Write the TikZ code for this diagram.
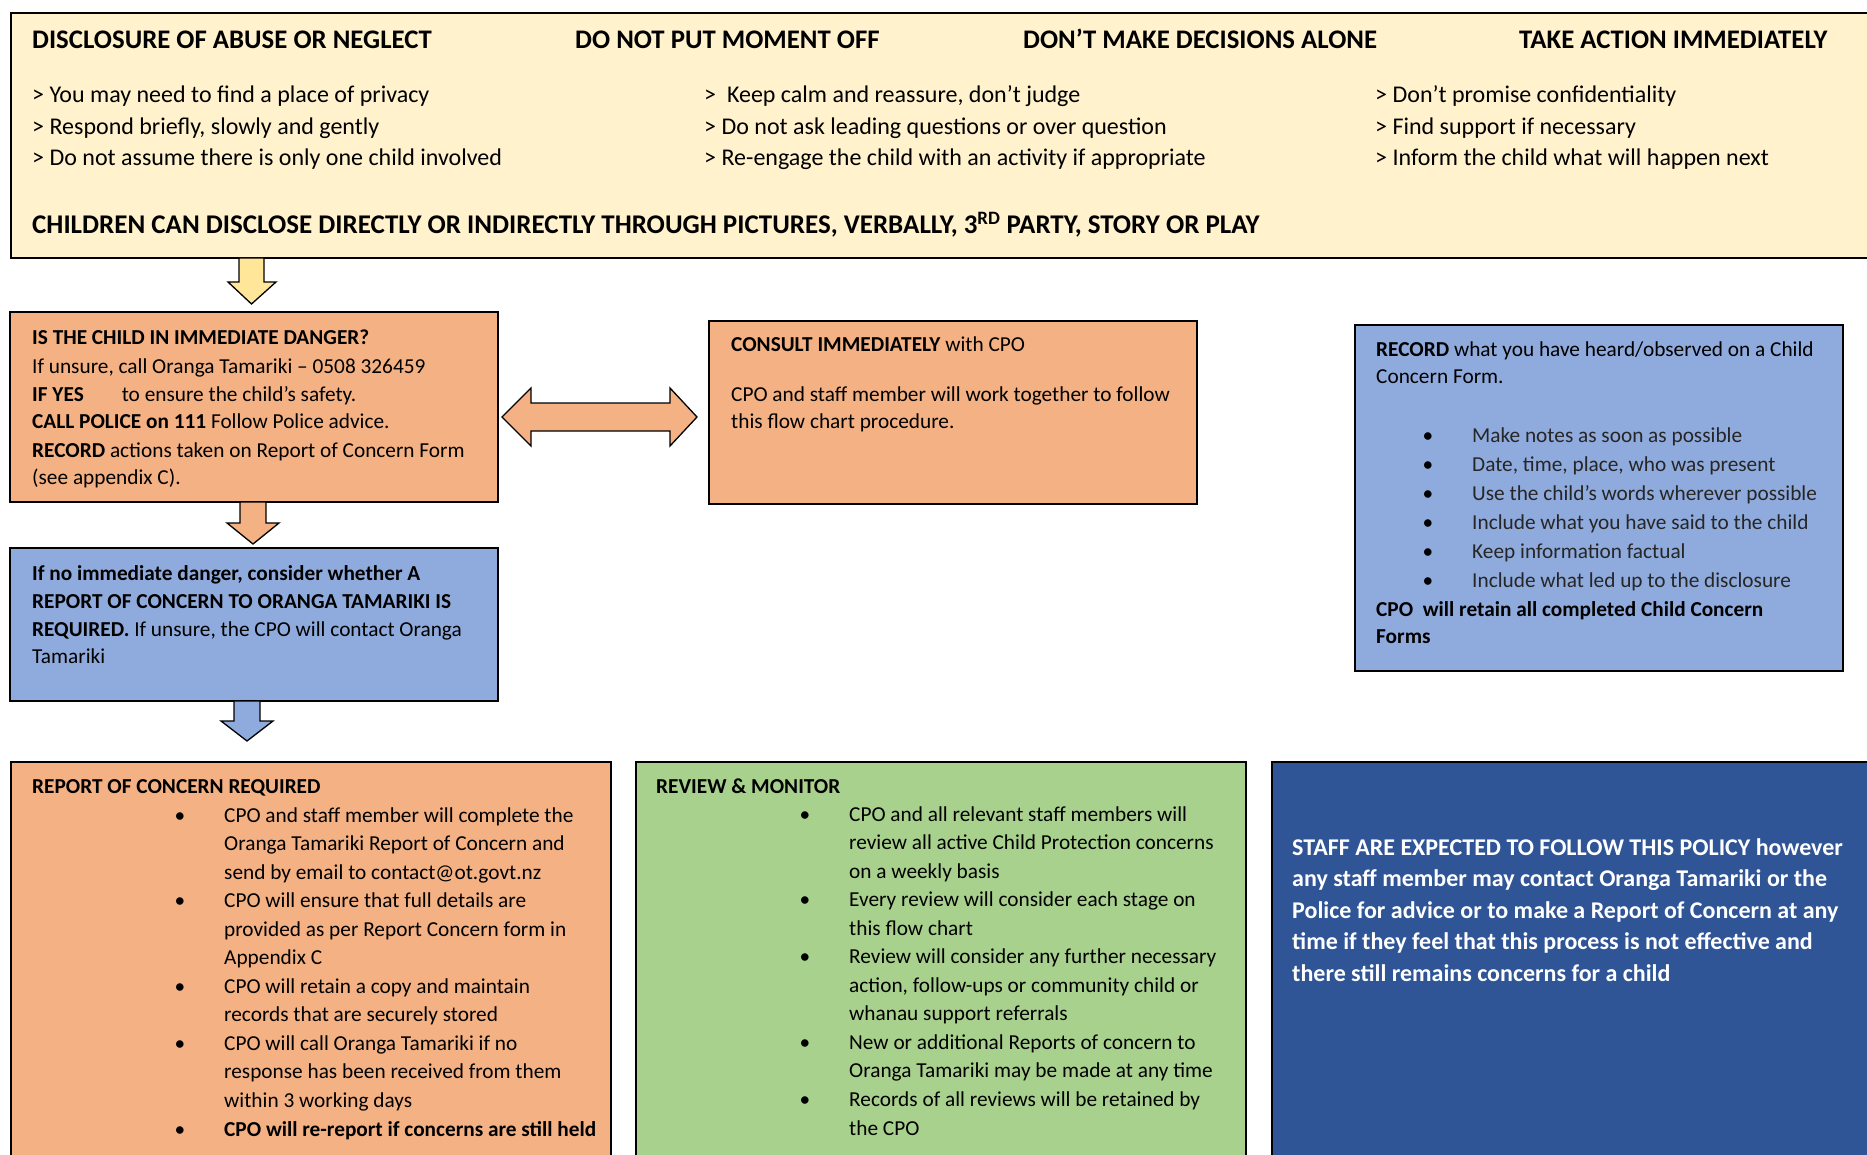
\documentclass[tikz,border=0pt]{standalone}
\usepackage{fontspec}
\setmainfont{Carlito}
\definecolor{topy}{HTML}{FFF2CC}
\definecolor{orng}{HTML}{F4B183}
\definecolor{lblue}{HTML}{8FAADC}
\definecolor{grn}{HTML}{A9D18E}
\definecolor{dblue}{HTML}{2F5597}
\definecolor{yarr}{HTML}{FFE699}
\begin{document}
\begin{tikzpicture}[x=1pt,y=-1pt,
  box/.style={draw=black,line width=1.6pt},
  arr/.style={draw=black,line width=1.3pt,line join=miter},
  tl/.style={anchor=base west,inner sep=0pt,font=\fontsize{21.3}{26}\selectfont},
  tb/.style={anchor=base west,inner sep=0pt,font=\fontsize{24}{29}\selectfont},
  th/.style={anchor=base west,inner sep=0pt,font=\bfseries\fontsize{26.8}{32}\selectfont},
  tw/.style={anchor=base west,inner sep=0pt,text=white,font=\bfseries\fontsize{24}{29}\selectfont},
  bul/.style={anchor=base,inner sep=0pt,font=\fontsize{21.3}{26}\selectfont},
  ]
\useasboundingbox (0,0) rectangle (1867,1155);
\clip (0,0) rectangle (1867,1155);
\fill[white] (0,0) rectangle (1867,1155);

% ---------- top box ----------
\draw[box,fill=topy] (11,13) rectangle (1885,258);
\node[th] (h1) at (32,49) {DISCLOSURE OF ABUSE OR NEGLECT};
\node[th] (h2) at (575,49) {DO NOT PUT MOMENT OFF};
\node[th] (h3) at (1023,49) {DON’T MAKE DECISIONS ALONE};
\node[th] (h4) at (1519,49) {TAKE ACTION IMMEDIATELY};
\foreach \t [count=\i from 0] in {{> You may need to find a place of privacy},{> Respond briefly, slowly and gently},{> Do not assume there is only one child involved}}
  \node[tb] (ca\i) at (32,103+31.5*\i) {\t};
\foreach \t [count=\i from 0] in {{>\ \ Keep calm and reassure, don’t judge},{> Do not ask leading questions or over question},{> Re-engage the child with an activity if appropriate}}
  \node[tb] (cb\i) at (704,103+31.5*\i) {\t};
\foreach \t [count=\i from 0] in {{> Don’t promise confidentiality},{> Find support if necessary},{> Inform the child what will happen next}}
  \node[tb] (cc\i) at (1375,103+31.5*\i) {\t};
\node[th,font=\bfseries\fontsize{27}{32}\selectfont] (disc) at (32,234) {CHILDREN CAN DISCLOSE DIRECTLY OR INDIRECTLY THROUGH PICTURES, VERBALLY, 3\textsuperscript{RD} PARTY, STORY OR PLAY};

% ---------- arrow top -> danger ----------
\draw[arr,fill=yarr] (239,258) -- (264,258) -- (264,282) -- (276,282) -- (251.5,304) -- (228,282) -- (239,282) -- cycle;

% ---------- danger box ----------
\draw[box,fill=orng] (10,312) rectangle (498,502);
\node[tl] (d0) at (32,344) {\textbf{IS THE CHILD IN IMMEDIATE DANGER?}};
\node[tl] (d1) at (32,373) {If unsure, call Oranga Tamariki – 0508 326459};
\node[tl] (d2) at (32,401) {\makebox[89.6pt][l]{\textbf{IF YES}}to ensure the child’s safety.};
\node[tl] (d3) at (32,428) {\textbf{CALL POLICE on 111} Follow Police advice.};
\node[tl] (d4) at (32,457) {\textbf{RECORD} actions taken on Report of Concern Form};
\node[tl] (d5) at (32,484) {(see appendix C).};

% ---------- arrow danger -> consider ----------
\draw[arr,fill=orng] (240,502) -- (266,502) -- (266,523) -- (279,523) -- (253,544) -- (227,523) -- (240,523) -- cycle;

% ---------- double arrow ----------
\draw[arr,fill=orng] (502,417) -- (531,388) -- (531,403) -- (670,403) -- (670,388) -- (697,417) -- (670,446) -- (670,431) -- (531,431) -- (531,446) -- cycle;

% ---------- consult box ----------
\draw[box,fill=orng] (709,321) rectangle (1197,504);
\node[tl] (k0) at (731,351) {\textbf{CONSULT IMMEDIATELY} with CPO};
\node[tl] (k1) at (731,401) {CPO and staff member will work together to follow};
\node[tl] (k2) at (731,428) {this flow chart procedure.};

% ---------- consider box ----------
\draw[box,fill=lblue] (10,548) rectangle (498,701);
\node[tl] (e0) at (32,580) {\textbf{If no immediate danger, consider whether A}};
\node[tl] (e1) at (32,608) {\textbf{REPORT OF CONCERN TO ORANGA TAMARIKI IS}};
\node[tl] (e2) at (32,636) {\textbf{REQUIRED.} If unsure, the CPO will contact Oranga};
\node[tl] (e3) at (32,663) {Tamariki};

% ---------- arrow consider -> report ----------
\draw[arr,fill=lblue] (234,701) -- (260,701) -- (260,721) -- (273,721) -- (247,741) -- (221,721) -- (234,721) -- cycle;

% ---------- record box ----------
\draw[box,fill=lblue] (1355,325) rectangle (1843,671);
\node[tl] (r0) at (1376,356) {\textbf{RECORD} what you have heard/observed on a Child};
\node[tl] (r1) at (1376,383) {Concern Form.};
\foreach \t [count=\i from 0] in {{Make notes as soon as possible},{Date, time, place, who was present},{Use the child’s words wherever possible},{Include what you have said to the child},{Keep information factual},{Include what led up to the disclosure}}
  {\node[bul] (rb\i) at (1428,442+29*\i) {•};
   \node[tl,text=black!85] (rt\i) at (1472,442+29*\i) {\t};}
\node[tl] (r2) at (1376,616) {\textbf{CPO\ \ will retain all completed Child Concern}};
\node[tl] (r3) at (1376,643) {\textbf{Forms}};

% ---------- report of concern box ----------
\draw[box,fill=orng] (11,762) rectangle (611,1175);
\node[tl] (p0) at (32,793) {\textbf{REPORT OF CONCERN REQUIRED}};
\foreach \t [count=\i from 0] in {{CPO and staff member will complete the},{Oranga Tamariki Report of Concern and},{send by email to contact@ot.govt.nz},{CPO will ensure that full details are},{provided as per Report Concern form in},{Appendix C},{CPO will retain a copy and maintain},{records that are securely stored},{CPO will call Oranga Tamariki if no},{response has been received from them},{within 3 working days},{\textbf{CPO will re-report if concerns are still held}}}
  \node[tl] (pt\i) at (224,822+28.55*\i) {\t};
\foreach \j in {0,3,6,8,11}
  \node[bul] (pb\j) at (180,822+28.55*\j) {•};

% ---------- review box ----------
\draw[box,fill=grn] (636,762) rectangle (1246,1175);
\node[tl] (v0) at (656,793) {\textbf{REVIEW \& MONITOR}};
\foreach \t [count=\i from 0] in {{CPO and all relevant staff members will},{review all active Child Protection concerns},{on a weekly basis},{Every review will consider each stage on},{this flow chart},{Review will consider any further necessary},{action, follow-ups or community child or},{whanau support referrals},{New or additional Reports of concern to},{Oranga Tamariki may be made at any time},{Records of all reviews will be retained by},{the CPO}}
  \node[tl] (vt\i) at (849,821+28.55*\i) {\t};
\foreach \j in {0,3,5,8,10}
  \node[bul] (vb\j) at (805,821+28.55*\j) {•};

% ---------- staff box ----------
\draw[box,fill=dblue] (1272,762) rectangle (1885,1175);
\foreach \t [count=\i from 0] in {{STAFF ARE EXPECTED TO FOLLOW THIS POLICY however},{any staff member may contact Oranga Tamariki or the},{Police for advice or to make a Report of Concern at any},{time if they feel that this process is not effective and},{there still remains concerns for a child}}
  \node[tw] (s\i) at (1292,855+31.5*\i) {\t};
\end{tikzpicture}
\end{document}
